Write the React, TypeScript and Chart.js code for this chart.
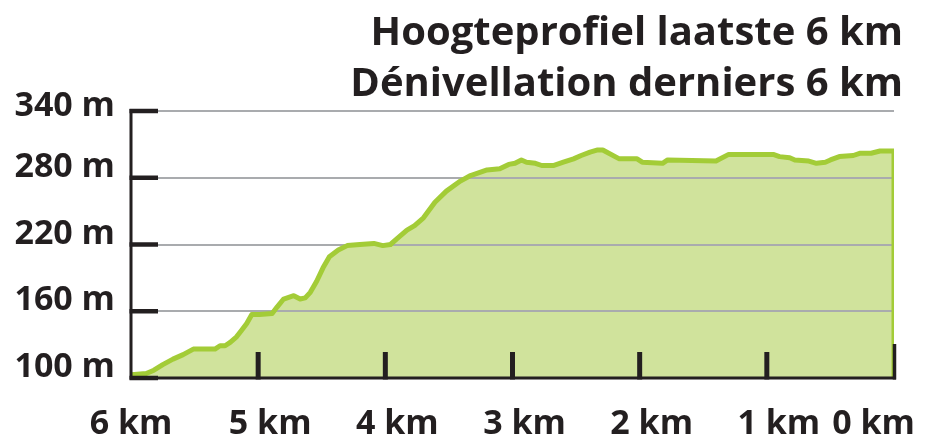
import React, { useEffect, useRef } from "react";
import { Chart, registerables } from "chart.js";

Chart.register(...registerables);

const titleLines = ["Hoogteprofiel laatste 6 km", "Dénivellation derniers 6 km"];

// distance still to go (km) and elevation (m)
const kmToGo = [
  6.0, 5.88, 5.82, 5.75, 5.67, 5.59, 5.51, 5.34, 5.3, 5.26, 5.22, 5.17, 5.13, 5.09, 5.05, 4.99,
  4.89, 4.85, 4.8, 4.72, 4.67, 4.63, 4.59, 4.54, 4.49, 4.44, 4.37, 4.3, 4.2, 4.09, 4.02, 3.96,
  3.91, 3.83, 3.77, 3.7, 3.61, 3.52, 3.41, 3.33, 3.2, 3.1, 3.03, 2.98, 2.93, 2.89, 2.82, 2.77,
  2.68, 2.6, 2.52, 2.46, 2.39, 2.33, 2.29, 2.16, 2.02, 1.98, 1.82, 1.78, 1.4, 1.3, 0.95, 0.9,
  0.82, 0.78, 0.67, 0.61, 0.54, 0.5, 0.43, 0.32, 0.27, 0.18, 0.11, 0.0, 0.0,
];
const elevation = [
  103, 104, 107, 112, 117, 121, 126, 126, 129, 129, 132, 137, 143, 149, 157, 157,
  158, 164, 171, 174, 171, 172, 177, 187, 199, 209, 215, 219, 220, 221, 219, 220,
  225, 233, 237, 244, 258, 268, 277, 282, 287, 288, 292, 293, 296, 294, 293, 291,
  291, 294, 297, 300, 303, 305, 305, 297, 297, 294, 293, 296, 295, 301, 301, 299,
  298, 296, 295, 293, 294, 296, 299, 300, 302, 302, 304, 304, 100,
];

const yTickValues = [100, 160, 220, 280, 340];
const yTickLabels = ["100 m", "160 m", "220 m", "280 m", "340 m"];
const xTickValues = [6, 5, 4, 3, 2, 1, 0];
const xTickLabels = ["6 km", "5 km", "4 km", "3 km", "2 km", "1 km", "0 km"];

const INK = "#231f20";
const GRID = "#a9abae";
const LINE = "#a3cc37";
const FILL = "#d0e39c";
const FONT = '"Open Sans", "Noto Sans", sans-serif';

const decorPlugin = {
  id: "profileDecor",
  beforeDatasetDraw(chart: any) {
    const { ctx, chartArea: a, scales } = chart;
    const y = scales.y;
    ctx.save();
    ctx.strokeStyle = GRID;
    ctx.lineWidth = 2;
    yTickValues.forEach((v) => {
      if (v === y.min) return;
      const py = Math.round(y.getPixelForValue(v));
      ctx.beginPath();
      ctx.moveTo(a.left, py);
      ctx.lineTo(a.right, py);
      ctx.stroke();
    });
    ctx.restore();
  },
  afterDatasetsDraw(chart: any) {
    const { ctx, chartArea: a, scales } = chart;
    const { x, y } = scales;
    ctx.save();
    ctx.strokeStyle = INK;
    ctx.lineCap = "butt";
    // axes
    ctx.lineWidth = 3;
    ctx.beginPath();
    ctx.moveTo(a.left, a.top - 2);
    ctx.lineTo(a.left, a.bottom);
    ctx.lineTo(a.right + 2, a.bottom);
    ctx.stroke();
    // y ticks (inside)
    ctx.lineWidth = 4.5;
    yTickValues.forEach((v) => {
      const py = y.getPixelForValue(v);
      ctx.beginPath();
      ctx.moveTo(a.left - 1.5, py);
      ctx.lineTo(a.left + 27, py);
      ctx.stroke();
    });
    // x ticks (inside, upwards)
    xTickValues.forEach((v, i) => {
      if (i === 0) return;
      const px = x.getPixelForValue(v);
      const last = i === xTickValues.length - 1;
      ctx.lineWidth = last ? 3.5 : 5;
      ctx.beginPath();
      ctx.moveTo(last ? px + 0.5 : px, a.bottom + 1.5);
      ctx.lineTo(last ? px + 0.5 : px, a.bottom - (last ? 34 : 26));
      ctx.stroke();
    });
    ctx.restore();
  },
  afterDraw(chart: any) {
    const { ctx, chartArea: a, scales, width } = chart;
    const { x, y } = scales;
    ctx.save();
    ctx.fillStyle = INK;
    // y labels
    ctx.font = `bold 34px ${FONT}`;
    ctx.textAlign = "right";
    ctx.textBaseline = "alphabetic";
    yTickValues.forEach((v, i) => {
      const py = y.getPixelForValue(v);
      ctx.fillText(yTickLabels[i], a.left - 16, Math.max(py - 1, a.top + 5));
    });
    // x labels
    ctx.font = `bold 34px ${FONT}`;
    xTickValues.forEach((v, i) => {
      const px = x.getPixelForValue(v);
      if (i === 0) {
        ctx.textAlign = "center";
        ctx.fillText(xTickLabels[i], px, a.bottom + 56);
      } else if (i === xTickValues.length - 1) {
        ctx.textAlign = "right";
        ctx.fillText(xTickLabels[i], width - 14, a.bottom + 56);
      } else {
        ctx.textAlign = "center";
        ctx.fillText(xTickLabels[i], px + 12, a.bottom + 56);
      }
    });
    // title
    ctx.font = `bold 40px ${FONT}`;
    ctx.textAlign = "right";
    ctx.fillText(titleLines[0], width - 26, 45);
    ctx.fillText(titleLines[1], width - 26, 96);
    ctx.restore();
  },
};

export default function App() {
  const ref = useRef<HTMLCanvasElement | null>(null);
  useEffect(() => {
    if (!ref.current) return;
    const chart = new Chart(ref.current, {
      type: "line",
      data: {
        datasets: [
          {
            data: kmToGo.map((k, i) => ({ x: k, y: elevation[i] })),
            borderColor: LINE,
            backgroundColor: FILL,
            borderWidth: 5,
            fill: "start",
            pointRadius: 0,
            tension: 0,
            borderJoinStyle: "round",
            borderCapStyle: "round",
          },
        ],
      },
      options: {
        responsive: false,
        animation: false,
        layout: { padding: { left: 131, right: 35, top: 111, bottom: 67 } },
        scales: {
          x: { type: "linear", reverse: true, min: 0, max: 6, display: false },
          y: { type: "linear", min: 100, max: 340, display: false },
        },
        plugins: { legend: { display: false }, tooltip: { enabled: false } },
      },
      plugins: [decorPlugin],
    });
    return () => chart.destroy();
  }, []);
  return (
    <div style={{ position: "fixed", left: 0, top: 0, width: 929, height: 445, background: "#fff" }}>
      <canvas ref={ref} width={929} height={445} style={{ display: "block" }} />
    </div>
  );
}
